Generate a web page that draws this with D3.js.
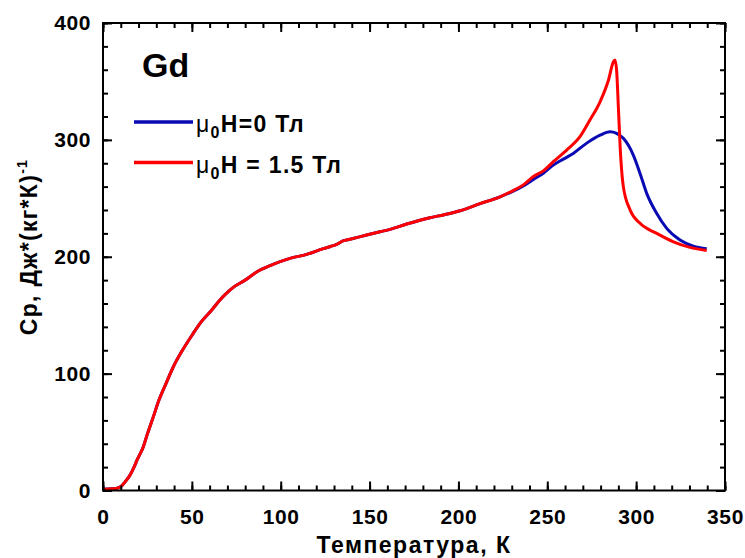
<!DOCTYPE html>
<html>
<head>
<meta charset="utf-8">
<script src="https://cdn.jsdelivr.net/npm/d3@7"></script>
<style>
  html, body { margin: 0; padding: 0; background: #fff; }
  svg { display: block; }
  text { font-family: "Liberation Sans", Arial, sans-serif; font-weight: bold; fill: #000; }
</style>
</head>
<body>
<svg id="chart" width="745" height="558"></svg>
<script>
// Shared low-temperature part (both curves coincide)
const tempShared = [0, 5, 8, 10.5, 13.3, 15.5, 17.6, 19, 22.7, 24.9, 28.3, 31.5, 35.5, 39.6, 44.8, 50.8, 54.6, 61.2, 65.8, 70, 73.3, 80, 86.5, 95, 105.2, 114.6, 124, 128, 131.5, 135, 139, 148.4, 155.9, 161.5, 170.9, 183.9, 192, 200.9, 212.2, 223.4];
const cpShared   = [1, 1.5, 2, 4, 9, 14, 20.4, 25.5, 37.5, 48, 63, 77.4, 91.7, 105.9, 120.2, 134.5, 143, 154.4, 163, 169.5, 173.8, 180, 187, 193, 198.6, 202, 207, 208.8, 210.5, 213.5, 215, 218.6, 221.4, 223.4, 228, 233.4, 236, 239.4, 245.5, 251.3];

// mu0H = 0 T (blue) above 223 K
const tempBlue = [230, 236.5, 242, 247.8, 253.4, 259, 264.6, 272, 279.7, 285.3, 289, 292.8, 298.4, 302.2, 306, 311.6, 317.2, 324.7, 332.2, 339.7];
const cpBlue   = [255.5, 260.5, 266, 271.5, 278.4, 283.5, 288.4, 297, 304, 307, 305.6, 301.3, 287, 271.3, 254, 237, 224.3, 214.3, 209, 206.8];

// mu0H = 1.5 T (red) above 223 K
const tempRed = [230, 236.5, 242, 247.8, 253.4, 260.9, 268.4, 274, 279.7, 284.4, 287.2, 288.1, 289, 290, 291, 292.8, 296.6, 302.2, 311.6, 321, 330.3, 339.7];
const cpRed   = [256, 261.5, 268.5, 273.5, 281.3, 291.3, 302.7, 317, 332.6, 351, 366.8, 368.3, 359.7, 328, 294, 260, 240, 228.6, 220, 212.8, 208, 205.3];

const xTicks = [0, 50, 100, 150, 200, 250, 300, 350];
const yTicks = [0, 100, 200, 300, 400];
const legendLabels = ["H=0 Тл", "H = 1.5 Тл"];

(function () {
const svg = d3.select("#chart");
const mLeft = 103, mRight = 725, mTop = 23, mBottom = 490.5;

const x = d3.scaleLinear().domain([0, 350]).range([mLeft, mRight]);
const y = d3.scaleLinear().domain([0, 400]).range([mBottom, mTop]);

const blueData = tempShared.map((t, i) => [t, cpShared[i]]).concat(tempBlue.map((t, i) => [t, cpBlue[i]]));
const redData  = tempShared.map((t, i) => [t, cpShared[i]]).concat(tempRed.map((t, i) => [t, cpRed[i]]));

const line = d3.line().x(d => x(d[0])).y(d => y(d[1])).curve(d3.curveMonotoneX);

svg.append("path").datum(blueData).attr("d", line)
  .attr("fill", "none").attr("stroke", "#0a0ab4").attr("stroke-width", 3).attr("stroke-linejoin", "round");
svg.append("path").datum(redData).attr("d", line)
  .attr("fill", "none").attr("stroke", "#ff0000").attr("stroke-width", 3).attr("stroke-linejoin", "round");

const minorX = d3.range(0, 351, 10);
const minorY = d3.range(0, 401, 20);
const noLabel = () => "";

function styleAxis(g) {
  g.select(".domain").remove();
  g.selectAll(".tick line").attr("stroke", "#000").attr("stroke-width", 2);
  g.selectAll(".tick text").attr("font-size", 21).attr("font-weight", "bold")
    .attr("letter-spacing", 0.6)
    .attr("font-family", "Liberation Sans, Arial, sans-serif");
}

function addAxis(gen, tx, ty) {
  svg.append("g").attr("transform", `translate(${tx},${ty})`).call(gen).call(styleAxis);
}

// inward ticks: opposite orientation so tick lines point into the plot
addAxis(d3.axisTop(x).tickValues(minorX).tickSize(5).tickFormat(noLabel), 0, mBottom);
addAxis(d3.axisTop(x).tickValues(xTicks).tickSize(9).tickFormat(noLabel), 0, mBottom);
addAxis(d3.axisBottom(x).tickValues(minorX).tickSize(5).tickFormat(noLabel), 0, mTop);
addAxis(d3.axisBottom(x).tickValues(xTicks).tickSize(9).tickFormat(noLabel), 0, mTop);
addAxis(d3.axisRight(y).tickValues(minorY).tickSize(5).tickFormat(noLabel), mLeft, 0);
addAxis(d3.axisRight(y).tickValues(yTicks).tickSize(9).tickFormat(noLabel), mLeft, 0);
addAxis(d3.axisLeft(y).tickValues(minorY).tickSize(5).tickFormat(noLabel), mRight, 0);
addAxis(d3.axisLeft(y).tickValues(yTicks).tickSize(9).tickFormat(noLabel), mRight, 0);
// tick labels
addAxis(d3.axisBottom(x).tickValues(xTicks).tickSize(0).tickPadding(19).tickFormat(d3.format("d")), 0, mBottom);
addAxis(d3.axisLeft(y).tickValues(yTicks).tickSize(0).tickPadding(12).tickFormat(d3.format("d")), mLeft, 0);

svg.append("rect").attr("x", mLeft).attr("y", mTop).attr("width", mRight - mLeft).attr("height", mBottom - mTop)
  .attr("fill", "none").attr("stroke", "#000").attr("stroke-width", 2);

svg.append("text").attr("x", (mLeft + mRight) / 2).attr("y", 553)
  .attr("text-anchor", "middle").attr("font-size", 23).attr("letter-spacing", 1.5).text("Температура, К");

const yl = svg.append("text").attr("transform", "translate(37,247) rotate(-90)")
  .attr("text-anchor", "middle").attr("font-size", 23).attr("letter-spacing", 1.3);
yl.append("tspan").text("Ср, Дж*(кг*К)");
yl.append("tspan").attr("dy", -10).attr("font-size", 14).text("-1");

svg.append("text").attr("x", 142).attr("y", 77).attr("font-size", 34).text("Gd");

const legendColors = ["#0a0ab4", "#ff0000"];
const legendY = [122, 162.5];
legendLabels.forEach((lab, i) => {
  svg.append("line").attr("x1", 134).attr("x2", 193).attr("y1", legendY[i]).attr("y2", legendY[i])
    .attr("stroke", legendColors[i]).attr("stroke-width", 3.5);
  const t = svg.append("text").attr("x", 196).attr("y", legendY[i] + 10).attr("font-size", 23).attr("letter-spacing", 1.3);
  t.append("tspan").attr("font-weight", "normal").text("μ");
  t.append("tspan").attr("dy", 6).attr("font-size", 16).text("0");
  t.append("tspan").attr("dy", -6).text(lab);
});
})();
</script>
</body>
</html>
